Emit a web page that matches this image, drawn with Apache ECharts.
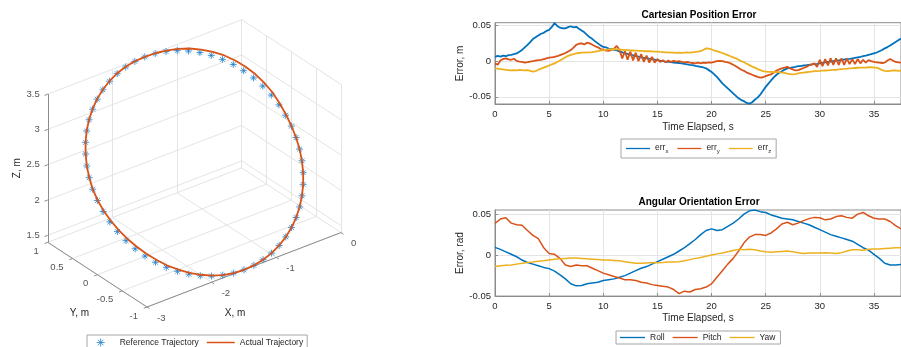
<!DOCTYPE html>
<html>
<head>
<meta charset="utf-8">
<script src="https://cdn.jsdelivr.net/npm/echarts@6/dist/echarts.min.js"></script>
<style>
  html, body { margin: 0; padding: 0; background: #fff; }
  #chart { width: 901px; height: 347px; }
</style>
</head>
<body>
<div id="chart"></div>
<script>
// ---------- 3D trajectory, metres ----------
const refX = [0.000, -0.008, -0.033, -0.073, -0.130, -0.201, -0.287, -0.385, -0.496, -0.618,
  -0.750, -0.890, -1.036, -1.188, -1.343, -1.500, -1.657, -1.812, -1.964, -2.110,
  -2.250, -2.382, -2.504, -2.615, -2.714, -2.799, -2.870, -2.927, -2.967, -2.992,
  -3.000, -2.992, -2.967, -2.927, -2.870, -2.799, -2.714, -2.615, -2.504, -2.382,
  -2.250, -2.110, -1.964, -1.812, -1.657, -1.500, -1.343, -1.188, -1.036, -0.890,
  -0.750, -0.618, -0.496, -0.385, -0.287, -0.201, -0.130, -0.073, -0.033, -0.008];
const refY = [0.000, 0.105, 0.208, 0.309, 0.407, 0.500, 0.588, 0.669, 0.743, 0.809,
  0.866, 0.914, 0.951, 0.978, 0.995, 1.000, 0.995, 0.978, 0.951, 0.914,
  0.866, 0.809, 0.743, 0.669, 0.588, 0.500, 0.407, 0.309, 0.208, 0.105,
  0.000, -0.105, -0.208, -0.309, -0.407, -0.500, -0.588, -0.669, -0.743, -0.809,
  -0.866, -0.914, -0.951, -0.978, -0.995, -1.000, -0.995, -0.978, -0.951, -0.914,
  -0.866, -0.809, -0.743, -0.669, -0.588, -0.500, -0.407, -0.309, -0.208, -0.105];
const refZ = [2.450, 2.560, 2.668, 2.774, 2.877, 2.975, 3.067, 3.153, 3.230, 3.299,
  3.359, 3.409, 3.449, 3.477, 3.494, 3.500, 3.494, 3.477, 3.449, 3.409,
  3.359, 3.299, 3.230, 3.153, 3.067, 2.975, 2.877, 2.774, 2.668, 2.560,
  2.450, 2.340, 2.232, 2.126, 2.023, 1.925, 1.833, 1.747, 1.670, 1.601,
  1.541, 1.491, 1.451, 1.423, 1.406, 1.400, 1.406, 1.423, 1.451, 1.491,
  1.541, 1.601, 1.670, 1.747, 1.833, 1.925, 2.023, 2.126, 2.232, 2.340];

const actX = [0.000, -0.003, -0.023, -0.053, -0.105, -0.171, -0.257, -0.355, -0.466, -0.593,
  -0.730, -0.875, -1.026, -1.183, -1.343, -1.500, -1.657, -1.812, -1.964, -2.110,
  -2.250, -2.382, -2.504, -2.615, -2.714, -2.799, -2.870, -2.927, -2.967, -2.992,
  -2.995, -2.982, -2.952, -2.907, -2.850, -2.779, -2.694, -2.595, -2.489, -2.367,
  -2.240, -2.100, -1.959, -1.812, -1.657, -1.500, -1.343, -1.188, -1.036, -0.890,
  -0.750, -0.618, -0.496, -0.385, -0.287, -0.201, -0.130, -0.073, -0.033, -0.008, 0.000];
const actY = [0.000, 0.105, 0.208, 0.309, 0.407, 0.500, 0.588, 0.669, 0.743, 0.809,
  0.866, 0.914, 0.951, 0.978, 0.995, 1.000, 0.995, 0.978, 0.951, 0.914,
  0.866, 0.809, 0.743, 0.669, 0.588, 0.500, 0.407, 0.309, 0.208, 0.105,
  0.000, -0.105, -0.208, -0.309, -0.407, -0.500, -0.588, -0.669, -0.743, -0.809,
  -0.866, -0.914, -0.951, -0.978, -0.995, -1.000, -0.995, -0.978, -0.951, -0.914,
  -0.866, -0.809, -0.743, -0.669, -0.588, -0.500, -0.407, -0.309, -0.208, -0.105, 0.000];
const actZ = [2.455, 2.570, 2.688, 2.804, 2.912, 3.015, 3.112, 3.198, 3.275, 3.339,
  3.394, 3.439, 3.469, 3.487, 3.499, 3.500, 3.496, 3.480, 3.453, 3.413,
  3.363, 3.303, 3.234, 3.157, 3.071, 2.979, 2.881, 2.777, 2.670, 2.561,
  2.450, 2.345, 2.242, 2.141, 2.043, 1.950, 1.858, 1.772, 1.690, 1.621,
  1.556, 1.501, 1.456, 1.423, 1.406, 1.400, 1.406, 1.423, 1.451, 1.491,
  1.541, 1.601, 1.670, 1.747, 1.833, 1.925, 2.023, 2.126, 2.232, 2.340, 2.455];

const xLim3 = [-3, 0];
const yLim3 = [-1, 1];
const zLim3 = [1.4, 3.5];
const xTicks3 = [-3, -2, -1, 0];
const yTicks3 = [-1, -0.5, 0, 0.5, 1];
const zTicks3 = [1.5, 2, 2.5, 3, 3.5];

// ---------- errors against time ----------
const dtPos = 0.25; // s between samples
const errX = [
  0.0060, 0.0075, 0.0065, 0.0078,
  0.0070, 0.0085, 0.0088, 0.0098,
  0.0110, 0.0132, 0.0158, 0.0195,
  0.0230, 0.0268, 0.0310, 0.0335,
  0.0360, 0.0385, 0.0398, 0.0425,
  0.0440, 0.0480, 0.0535, 0.0495,
  0.0470, 0.0462, 0.0460, 0.0478,
  0.0490, 0.0475, 0.0482, 0.0455,
  0.0430, 0.0405, 0.0370, 0.0335,
  0.0310, 0.0278, 0.0250, 0.0222,
  0.0200, 0.0195, 0.0178, 0.0172,
  0.0160, 0.0152, 0.0138, 0.0125,
  0.0110, 0.0102, 0.0092, 0.0081,
  0.0070, 0.0063, 0.0055, 0.0048,
  0.0040, 0.0035, 0.0026, 0.0021,
  0.0015, 0.0008, 0.0002, -0.0005,
  -0.0010, -0.0012, -0.0018, -0.0022,
  -0.0025, -0.0030, -0.0036, -0.0043,
  -0.0050, -0.0055, -0.0065, -0.0072,
  -0.0080, -0.0088, -0.0100, -0.0125,
  -0.0150, -0.0185, -0.0220, -0.0265,
  -0.0310, -0.0345, -0.0380, -0.0415,
  -0.0450, -0.0485, -0.0520, -0.0545,
  -0.0560, -0.0585, -0.0595, -0.0575,
  -0.0540, -0.0510, -0.0470, -0.0415,
  -0.0360, -0.0315, -0.0270, -0.0228,
  -0.0190, -0.0162, -0.0140, -0.0118,
  -0.0100, -0.0092, -0.0085, -0.0078,
  -0.0070, -0.0068, -0.0060, -0.0056,
  -0.0050, -0.0046, -0.0040, -0.0036,
  -0.0030, -0.0022, -0.0016, -0.0010,
  -0.0005, 0.0002, 0.0008, 0.0012,
  0.0020, 0.0024, 0.0030, 0.0034,
  0.0040, 0.0048, 0.0055, 0.0062,
  0.0070, 0.0078, 0.0090, 0.0098,
  0.0110, 0.0122, 0.0140, 0.0158,
  0.0180, 0.0198, 0.0220, 0.0245,
  0.0270, 0.0295, 0.0320];
const errY = [
  -0.0030, -0.0050, 0.0010, 0.0030,
  0.0040, 0.0025, 0.0020, 0.0035,
  0.0005, -0.0005, -0.0010, -0.0020,
  -0.0014, -0.0005, 0.0000, 0.0010,
  0.0014, 0.0020, 0.0030, 0.0040,
  0.0050, 0.0055, 0.0060, 0.0070,
  0.0085, 0.0100, 0.0115, 0.0135,
  0.0156, 0.0190, 0.0230, 0.0245,
  0.0250, 0.0235, 0.0260, 0.0250,
  0.0230, 0.0210, 0.0195, 0.0170,
  0.0165, 0.0148, 0.0146, 0.0160,
  0.0175, 0.0215, 0.0156, 0.0040,
  0.0140, 0.0020, 0.0135, 0.0010,
  0.0120, 0.0000, 0.0100, -0.0010,
  0.0080, -0.0020, 0.0060, -0.0020,
  0.0030, -0.0010, 0.0015, -0.0015,
  0.0010, -0.0010, 0.0005, -0.0005,
  0.0000, -0.0010, -0.0015, -0.0010,
  -0.0020, -0.0025, -0.0030, -0.0020,
  -0.0030, -0.0020, -0.0025, -0.0015,
  -0.0020, -0.0010, 0.0000, 0.0005,
  0.0000, -0.0010, -0.0015, -0.0030,
  -0.0050, -0.0070, -0.0095, -0.0120,
  -0.0135, -0.0160, -0.0175, -0.0190,
  -0.0205, -0.0220, -0.0230, -0.0225,
  -0.0210, -0.0195, -0.0185, -0.0160,
  -0.0130, -0.0115, -0.0100, -0.0090,
  -0.0080, -0.0100, -0.0115, -0.0130,
  -0.0125, -0.0110, -0.0095, -0.0080,
  -0.0060, -0.0045, -0.0030, -0.0080,
  0.0020, -0.0070, 0.0030, -0.0060,
  0.0040, -0.0050, 0.0040, -0.0050,
  0.0040, -0.0050, 0.0035, -0.0040,
  0.0030, -0.0040, 0.0030, -0.0030,
  0.0020, -0.0020, 0.0015, 0.0000,
  -0.0010, -0.0015, -0.0020, -0.0025,
  -0.0020, 0.0010, 0.0030, 0.0010,
  -0.0010, -0.0015, -0.0020];
const errZ = [
  -0.0100, -0.0105, -0.0110, -0.0115,
  -0.0120, -0.0125, -0.0130, -0.0125,
  -0.0130, -0.0120, -0.0125, -0.0130,
  -0.0125, -0.0135, -0.0145, -0.0140,
  -0.0120, -0.0105, -0.0090, -0.0075,
  -0.0060, -0.0045, -0.0030, -0.0010,
  0.0010, 0.0030, 0.0055, 0.0075,
  0.0090, 0.0100, 0.0110, 0.0115,
  0.0120, 0.0120, 0.0125, 0.0125,
  0.0128, 0.0135, 0.0140, 0.0150,
  0.0155, 0.0160, 0.0165, 0.0168,
  0.0170, 0.0168, 0.0165, 0.0160,
  0.0158, 0.0155, 0.0150, 0.0150,
  0.0148, 0.0145, 0.0145, 0.0140,
  0.0142, 0.0140, 0.0138, 0.0135,
  0.0133, 0.0130, 0.0128, 0.0125,
  0.0123, 0.0120, 0.0120, 0.0118,
  0.0120, 0.0118, 0.0120, 0.0122,
  0.0120, 0.0125, 0.0130, 0.0135,
  0.0140, 0.0160, 0.0180, 0.0175,
  0.0165, 0.0150, 0.0140, 0.0128,
  0.0115, 0.0100, 0.0085, 0.0070,
  0.0055, 0.0040, 0.0020, 0.0000,
  -0.0015, -0.0035, -0.0055, -0.0075,
  -0.0090, -0.0110, -0.0125, -0.0140,
  -0.0145, -0.0150, -0.0150, -0.0155,
  -0.0150, -0.0155, -0.0160, -0.0165,
  -0.0175, -0.0180, -0.0185, -0.0180,
  -0.0170, -0.0165, -0.0160, -0.0155,
  -0.0150, -0.0145, -0.0140, -0.0138,
  -0.0136, -0.0133, -0.0130, -0.0128,
  -0.0125, -0.0122, -0.0120, -0.0115,
  -0.0110, -0.0108, -0.0105, -0.0100,
  -0.0098, -0.0095, -0.0092, -0.0090,
  -0.0090, -0.0088, -0.0085, -0.0085,
  -0.0088, -0.0090, -0.0105, -0.0125,
  -0.0135, -0.0140, -0.0135, -0.0130,
  -0.0130, -0.0135, -0.0130];

const dtAng = 0.5; // s between samples
const roll = [
  0.0094, 0.0070, 0.0040, 0.0010, -0.0020, -0.0060, -0.0090, -0.0110, -0.0130, -0.0150,
  -0.0165, -0.0195, -0.0240, -0.0290, -0.0350, -0.0375, -0.0370, -0.0350, -0.0340, -0.0330,
  -0.0310, -0.0300, -0.0290, -0.0270, -0.0250, -0.0220, -0.0190, -0.0160, -0.0140, -0.0110,
  -0.0080, -0.0050, -0.0020, 0.0010, 0.0050, 0.0090, 0.0140, 0.0190, 0.0250, 0.0300,
  0.0320, 0.0300, 0.0310, 0.0350, 0.0390, 0.0440, 0.0500, 0.0540, 0.0550, 0.0530,
  0.0520, 0.0490, 0.0470, 0.0450, 0.0440, 0.0430, 0.0410, 0.0390, 0.0370, 0.0340,
  0.0310, 0.0280, 0.0250, 0.0230, 0.0210, 0.0190, 0.0170, 0.0130, 0.0090, 0.0060,
  0.0010, -0.0040, -0.0100, -0.0120, -0.0120, -0.0115];
const pitch = [
  0.0386, 0.0440, 0.0455, 0.0390, 0.0370, 0.0365, 0.0300, 0.0240, 0.0200, 0.0090,
  0.0020, 0.0010, -0.0040, -0.0120, -0.0140, -0.0120, -0.0130, -0.0130, -0.0160, -0.0190,
  -0.0220, -0.0240, -0.0260, -0.0280, -0.0300, -0.0300, -0.0310, -0.0330, -0.0340, -0.0360,
  -0.0370, -0.0380, -0.0390, -0.0420, -0.0470, -0.0440, -0.0450, -0.0420, -0.0410, -0.0390,
  -0.0350, -0.0270, -0.0190, -0.0110, -0.0040, 0.0050, 0.0150, 0.0220, 0.0250, 0.0250,
  0.0240, 0.0270, 0.0320, 0.0380, 0.0400, 0.0370, 0.0390, 0.0420, 0.0445, 0.0460,
  0.0455, 0.0430, 0.0440, 0.0470, 0.0480, 0.0460, 0.0450, 0.0500, 0.0520, 0.0480,
  0.0450, 0.0440, 0.0440, 0.0410, 0.0360, 0.0320];
const yaw = [
  -0.0140, -0.0130, -0.0125, -0.0120, -0.0110, -0.0100, -0.0090, -0.0085, -0.0075, -0.0070,
  -0.0060, -0.0050, -0.0045, -0.0040, -0.0035, -0.0035, -0.0040, -0.0045, -0.0050, -0.0055,
  -0.0060, -0.0060, -0.0065, -0.0070, -0.0080, -0.0090, -0.0100, -0.0100, -0.0095, -0.0090,
  -0.0093, -0.0090, -0.0085, -0.0085, -0.0080, -0.0070, -0.0055, -0.0040, -0.0030, -0.0015,
  0.0000, 0.0015, 0.0025, 0.0040, 0.0055, 0.0070, 0.0065, 0.0070, 0.0065, 0.0050,
  0.0040, 0.0035, 0.0040, 0.0045, 0.0050, 0.0040, 0.0030, 0.0020, 0.0025, 0.0025,
  0.0025, 0.0030, 0.0025, 0.0020, 0.0030, 0.0050, 0.0065, 0.0065, 0.0060, 0.0070,
  0.0075, 0.0075, 0.0080, 0.0085, 0.0090, 0.0090];

const timeTicks = [0, 5, 10, 15, 20, 25, 30, 35];
const errTicks = [-0.05, 0, 0.05];

// ---------- look ----------
const FONT = 'Liberation Sans, Arial, Helvetica, sans-serif';
const TXT = '#262626';
const AXIS = '#8c8c8c';
const GRIDC = '#e4e4e4';
const BLUE = '#0072BD', ORANGE = '#D95319', YELLOW = '#EDB120';
const STAR = 'path://M5,0L5,10M0,5L10,5M1.6,1.6L8.4,8.4M1.6,8.4L8.4,1.6';
// same asterisk, padded sideways so the legend centres it in its slot
const STAR_KEY = 'path://M-9,5L-9,5.01M19,5L19,5.01M5,0L5,10M0,5L10,5M1.6,1.6L8.4,8.4M1.6,8.4L8.4,1.6';
const LINE_KEY = 'path://M0,0L30,0L30,1.6L0,1.6Z';

// MATLAB-like default 3D view (az -37.5, el 30), equal data aspect
const view3 = { az: 37.5, el: 30, scale: 81.5, ox: 147, oy: 307 };
function project(x, y, z) {
  const a = view3.az * Math.PI / 180, e = view3.el * Math.PI / 180;
  const dx = x - xLim3[0], dy = y - yLim3[0], dz = z - zLim3[0];
  const h = view3.scale * (Math.cos(a) * dx - Math.sin(a) * dy);
  const v = view3.scale * (Math.sin(e) * (Math.sin(a) * dx + Math.cos(a) * dy) + Math.cos(e) * dz);
  return [view3.ox + h, view3.oy - v];
}
function seg(p, q) { return { coords: [project(p[0], p[1], p[2]), project(q[0], q[1], q[2])] }; }

const [x0, x1] = xLim3, [y0, y1] = yLim3, [z0, z1] = zLim3;
const gridSegs = [];
xTicks3.forEach(x => gridSegs.push(seg([x, y0, z0], [x, y1, z0])));
yTicks3.forEach(y => gridSegs.push(seg([x0, y, z0], [x1, y, z0])));
xTicks3.forEach(x => gridSegs.push(seg([x, y1, z0], [x, y1, z1])));
zTicks3.forEach(z => gridSegs.push(seg([x0, y1, z], [x1, y1, z])));
yTicks3.forEach(y => gridSegs.push(seg([x1, y, z0], [x1, y, z1])));
zTicks3.forEach(z => gridSegs.push(seg([x1, y0, z], [x1, y1, z])));

const axisSegs = [
  seg([x0, y0, z0], [x1, y0, z0]),
  seg([x0, y0, z0], [x0, y1, z0]),
  seg([x0, y1, z0], [x0, y1, z1])
];
xTicks3.forEach(x => axisSegs.push(seg([x, y0, z0], [x, y0 - 0.05, z0])));
yTicks3.forEach(y => axisSegs.push(seg([x0, y, z0], [x0 - 0.05, y, z0])));
zTicks3.forEach(z => axisSegs.push(seg([x0, y1, z], [x0 - 0.05, y1, z])));

const tickLabels3 = [];
zTicks3.forEach(z => {
  const p = project(x0, y1, z);
  tickLabels3.push({ value: [p[0] - 8, p[1]], name: String(z), label: { align: 'right' } });
});
yTicks3.forEach(y => {
  const p = project(x0, y, z0);
  tickLabels3.push({ value: [p[0] - 9, p[1] + 9], name: String(y), label: { align: 'right' } });
});
xTicks3.forEach(x => {
  const p = project(x, y0, z0);
  tickLabels3.push({ value: [p[0] + 10, p[1] + 11], name: String(x), label: { align: 'left' } });
});

const refPts = refX.map((x, i) => project(x, refY[i], refZ[i]));
const actPts = actX.map((x, i) => project(x, actY[i], actZ[i]));
const zMid = project(x0, y1, (z0 + z1) / 2);
const yMid = project(x0, (y0 + y1) / 2, z0);
const xMid = project((x0 + x1) / 2, y0, z0);

// ---------- 2D axes ----------
function timeAxis(gridIndex, gap) {
  return {
    gridIndex, type: 'value', min: 0, max: 37.5,
    axisLine: { show: true, onZero: false, lineStyle: { color: AXIS, width: 1 } },
    axisTick: { show: true, inside: true, length: 3, customValues: timeTicks, lineStyle: { color: AXIS } },
    axisLabel: { customValues: timeTicks, fontSize: 9.5, color: TXT, margin: 5, fontFamily: FONT },
    splitLine: { show: true, lineStyle: { color: GRIDC, width: 1 } },
    name: 'Time Elapsed, s', nameLocation: 'middle', nameGap: gap,
    nameTextStyle: { fontSize: 10, color: TXT, fontFamily: FONT }
  };
}
function errAxis(gridIndex, min, max, name) {
  return {
    gridIndex, type: 'value', min, max,
    axisLine: { show: true, onZero: false, lineStyle: { color: AXIS, width: 1 } },
    axisTick: { show: true, inside: true, length: 3, customValues: errTicks, lineStyle: { color: AXIS } },
    axisLabel: {
      customValues: errTicks, fontSize: 9.5, color: TXT, margin: 4, fontFamily: FONT,
      formatter: v => (Math.abs(v) < 1e-9 ? '0' : v.toFixed(2))
    },
    splitLine: { show: true, lineStyle: { color: GRIDC, width: 1 } },
    name, nameLocation: 'middle', nameGap: 27, nameRotate: 90,
    nameTextStyle: { fontSize: 10, color: TXT, fontFamily: FONT }
  };
}
function errSeries(name, values, dt, color, xi, width) {
  return {
    name, type: 'line', xAxisIndex: xi, yAxisIndex: xi,
    data: values.map((v, i) => [i * dt, v]),
    showSymbol: false, symbol: 'none', silent: true,
    lineStyle: { color, width }, itemStyle: { color }
  };
}
function lineKey(name, color) { return { name, icon: LINE_KEY, itemStyle: { color, borderWidth: 0 } }; }
const subRich = {
  a: { fontSize: 8.5, color: TXT, fontFamily: FONT, padding: [0, 0, 2, 0], verticalAlign: 'bottom' },
  b: { fontSize: 6, color: TXT, fontFamily: FONT, verticalAlign: 'bottom' }
};

const option = {
  animation: false,
  backgroundColor: '#fff',
  textStyle: { fontFamily: FONT },
  title: [
    { text: 'Cartesian Position Error', left: 699, top: 10, padding: 0, textAlign: 'center',
      textStyle: { fontSize: 10, fontWeight: 'bold', color: '#000', fontFamily: FONT } },
    { text: 'Angular Orientation Error', left: 699, top: 197, padding: 0, textAlign: 'center',
      textStyle: { fontSize: 10, fontWeight: 'bold', color: '#000', fontFamily: FONT } }
  ],
  grid: [
    { left: 0, top: 0, width: 440, height: 347, show: false },
    { left: 495, top: 22.7, width: 409, height: 81.3, show: true, borderColor: AXIS, borderWidth: 1 },
    { left: 495, top: 210, width: 409, height: 86.1, show: true, borderColor: AXIS, borderWidth: 1 }
  ],
  xAxis: [
    { gridIndex: 0, type: 'value', min: 0, max: 440, show: false },
    timeAxis(1, 18.5),
    timeAxis(2, 17)
  ],
  yAxis: [
    { gridIndex: 0, type: 'value', min: 0, max: 347, inverse: true, show: false },
    errAxis(1, -0.06, 0.054, 'Error, m'),
    errAxis(2, -0.05, 0.055, 'Error, rad')
  ],
  legend: [
    {
      left: 87, top: 335, itemWidth: 28, itemHeight: 8, itemGap: 8, padding: [3, 4, 3, 2],
      borderColor: '#a6a6a6', borderWidth: 1, selectedMode: false,
      textStyle: { fontSize: 8.5, color: TXT, fontFamily: FONT },
      data: [
        { name: 'Reference Trajectory', icon: STAR_KEY,
          itemStyle: { color: 'rgba(0,0,0,0)', borderColor: '#1f7fcc', borderWidth: 1 } },
        lineKey('Actual Trajectory', ORANGE)
      ]
    },
    {
      left: 621, top: 139, itemWidth: 24, itemHeight: 10, itemGap: 9, padding: [4, 5, 4, 5],
      borderColor: '#a6a6a6', borderWidth: 1, selectedMode: false,
      textStyle: { fontSize: 8.5, color: TXT, fontFamily: FONT, rich: subRich },
      formatter: n => '{a|err}{b|' + n.slice(4) + '}',
      data: [lineKey('err_x', BLUE), lineKey('err_y', ORANGE), lineKey('err_z', YELLOW)]
    },
    {
      left: 616, top: 331, itemWidth: 25, itemHeight: 8, itemGap: 8, padding: [2, 5, 2, 4],
      borderColor: '#a6a6a6', borderWidth: 1, selectedMode: false,
      textStyle: { fontSize: 8.5, color: TXT, fontFamily: FONT },
      data: [lineKey('Roll', BLUE), lineKey('Pitch', ORANGE), lineKey('Yaw', YELLOW)]
    }
  ],
  graphic: [
    { type: 'text', x: zMid[0] - 31, y: zMid[1], rotation: Math.PI / 2,
      style: { text: 'Z, m', fontSize: 10, fontFamily: FONT, fill: TXT, align: 'center', verticalAlign: 'middle' } },
    { type: 'text', x: yMid[0] - 18, y: yMid[1] + 39,
      style: { text: 'Y, m', fontSize: 10, fontFamily: FONT, fill: TXT, align: 'center', verticalAlign: 'middle' } },
    { type: 'text', x: xMid[0] - 9, y: xMid[1] + 43,
      style: { text: 'X, m', fontSize: 10, fontFamily: FONT, fill: TXT, align: 'center', verticalAlign: 'middle' } }
  ],
  series: [
    { type: 'lines', coordinateSystem: 'cartesian2d', xAxisIndex: 0, yAxisIndex: 0, silent: true,
      data: gridSegs, lineStyle: { color: GRIDC, width: 1, opacity: 1 } },
    { type: 'lines', coordinateSystem: 'cartesian2d', xAxisIndex: 0, yAxisIndex: 0, silent: true,
      data: axisSegs, lineStyle: { color: AXIS, width: 1, opacity: 1 } },
    { type: 'scatter', xAxisIndex: 0, yAxisIndex: 0, silent: true, symbolSize: 1,
      itemStyle: { color: 'rgba(0,0,0,0)' }, data: tickLabels3,
      label: { show: true, position: 'inside', formatter: '{b}', fontSize: 9.5, color: TXT,
               fontFamily: FONT, verticalAlign: 'middle' } },
    { name: 'Actual Trajectory', type: 'line', xAxisIndex: 0, yAxisIndex: 0, silent: true,
      data: actPts, showSymbol: false, symbol: 'none',
      lineStyle: { color: ORANGE, width: 1.8 }, itemStyle: { color: ORANGE } },
    { name: 'Reference Trajectory', type: 'scatter', xAxisIndex: 0, yAxisIndex: 0, silent: true,
      data: refPts, symbol: STAR, symbolSize: 7,
      itemStyle: { color: 'rgba(0,0,0,0)', borderColor: '#1f7fcc', borderWidth: 1 } },

    errSeries('err_x', errX, dtPos, BLUE, 1, 1.8),
    errSeries('err_y', errY, dtPos, ORANGE, 1, 1.8),
    errSeries('err_z', errZ, dtPos, YELLOW, 1, 1.8),
    errSeries('Roll', roll, dtAng, BLUE, 2, 1.5),
    errSeries('Pitch', pitch, dtAng, ORANGE, 2, 1.5),
    errSeries('Yaw', yaw, dtAng, YELLOW, 2, 1.5)
  ]
};

const chart = echarts.init(document.getElementById('chart'), null, { renderer: 'canvas' });
chart.setOption(option);
</script>
</body>
</html>
